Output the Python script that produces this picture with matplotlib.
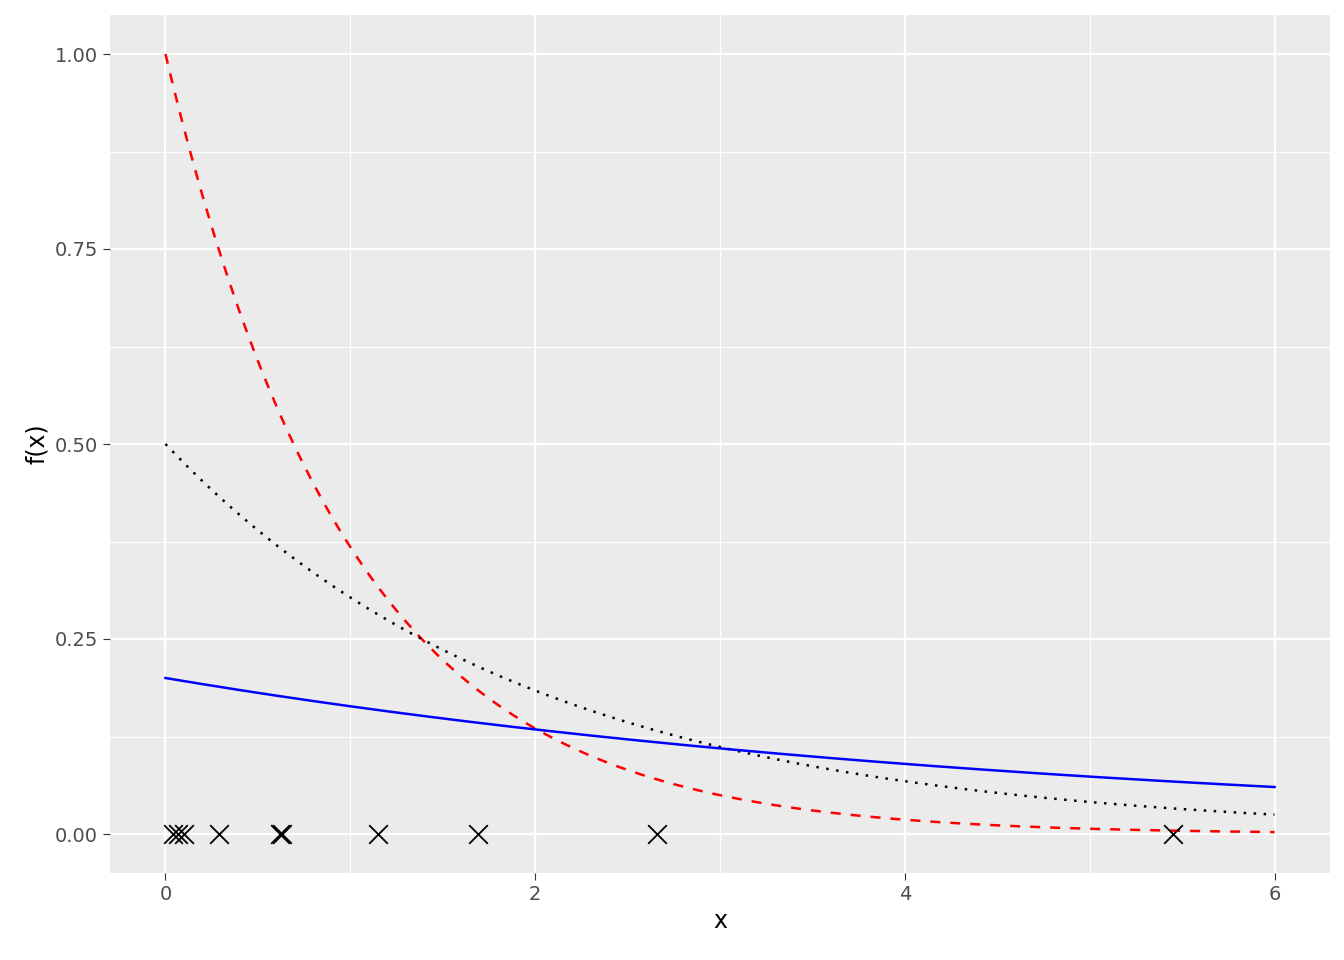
import numpy as np
import matplotlib
matplotlib.use("Agg")
import matplotlib.pyplot as plt

rates = [1.0, 0.5, 0.2]
colors = ["red", "black", "blue"]
styles = [(0, (4, 4)), (0, (1, 3)), "-"]
samples = [0.04, 0.07, 0.10, 0.29, 0.62, 0.63, 1.15, 1.69, 2.66, 5.45]

fig = plt.figure(figsize=(13.44, 9.6), dpi=100)
ax = fig.add_axes([110/1344, 1-(873/960), (1330-110)/1344, (873-15)/960])
ax.set_facecolor("#EBEBEB")
xs = np.linspace(0, 6, 400)
for r, c, s in zip(rates, colors, styles):
    ax.plot(xs, r*np.exp(-r*xs), color=c, linestyle=s, lw=1.8, zorder=3)
ax.scatter(samples, np.zeros(len(samples)), marker="x", s=180, color="black", linewidths=1.3, zorder=4)
ax.set_xlim(-0.3, 6.3)
ax.set_ylim(-0.05, 1.05)
ax.set_xticks([0, 2, 4, 6])
ax.set_xticks([1, 3, 5], minor=True)
ax.set_yticks([0, 0.25, 0.5, 0.75, 1.0])
ax.set_yticklabels(["0.00", "0.25", "0.50", "0.75", "1.00"])
ax.set_yticks([0.125, 0.375, 0.625, 0.875], minor=True)
ax.grid(which="major", color="white", lw=1.6)
ax.grid(which="minor", color="white", lw=0.8)
ax.set_axisbelow(True)
for sp in ax.spines.values():
    sp.set_visible(False)
ax.tick_params(which="major", length=5, color="#333333", labelcolor="#4D4D4D", labelsize=14)
ax.tick_params(which="minor", length=0)
ax.set_xlabel("x", fontsize=17)
ax.set_ylabel("f(x)", fontsize=17)
fig.savefig("out.png", dpi=100)
